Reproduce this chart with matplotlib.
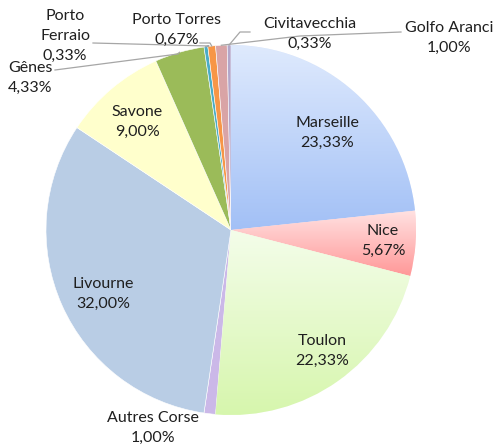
import matplotlib
matplotlib.use("Agg")
import matplotlib.pyplot as plt
import numpy as np
from matplotlib.colors import LinearSegmentedColormap

labels = ["Marseille", "Nice", "Toulon", "Autres Corse", "Livourne", "Savone",
          "Gênes", "Porto\nFerraio", "Porto Torres", "Golfo Aranci", "Civitavecchia"]
values = [23.33, 5.67, 22.33, 1.00, 32.00, 9.00, 4.33, 0.33, 0.67, 1.00, 0.33]
colors = ["#bcd2f8", "#ffb5b5", "#e3fbc6", "#cbb8e8", "#b9cde5", "#ffffcc",
          "#9bbb59", "#4bacc6", "#f79646", "#d9a4a6", "#b3a6c9"]
gradients = {0: ("#dfeafd", "#a2c0f6"), 1: ("#ffe2e2", "#ff9898"),
             2: ("#f4fdea", "#d6f6ac")}

W, H = 494, 446
CX, CY, R = 231, 230, 185

fig = plt.figure(figsize=(W/100, H/100), dpi=100)
ax = fig.add_axes([0, 0, 1, 1])

def px(x, y):
    return ((x-CX)/R, (CY-y)/R)

wedges, _ = ax.pie(values, colors=colors, startangle=90, counterclock=False,
                   radius=1, center=(0, 0), frame=True,
                   wedgeprops=dict(edgecolor="white", linewidth=0.4))
ax.set_xlim(-CX/R, (W-CX)/R)
ax.set_ylim(-(H-CY)/R, CY/R)
ax.set_aspect("equal")
ax.axis("off")

for i, (c1, c2) in gradients.items():
    w = wedges[i]
    verts = w.get_path().vertices
    x0, x1 = verts[:, 0].min(), verts[:, 0].max()
    y0, y1 = verts[:, 1].min(), verts[:, 1].max()
    cmap = LinearSegmentedColormap.from_list(f"g{i}", [c2, c1])
    grad = np.linspace(0, 1, 256).reshape(-1, 1)
    im = ax.imshow(grad, cmap=cmap, origin="lower", extent=(x0, x1, y0, y1),
                   aspect="auto", zorder=w.get_zorder() + 0.1, interpolation="bilinear")
    im.set_clip_path(w)
ax.set_xlim(-CX/R, (W-CX)/R)
ax.set_ylim(-(H-CY)/R, CY/R)

font = dict(family=["Lato", "DejaVu Sans"], fontsize=11.5, color="#1f1f1f",
            ha="center", va="center", linespacing=1.55, zorder=10)

def pct(v):
    return f"{v:.2f}".replace(".", ",") + "%"

label_pos = {
    "Marseille": (327, 133), "Nice": (383, 241), "Toulon": (322, 351),
    "Autres Corse": (153, 428), "Livourne": (103, 294), "Savone": (137, 122),
    "Gênes": (30, 78), "Porto\nFerraio": (65, 36), "Porto Torres": (177, 30),
    "Golfo Aranci": (449, 38), "Civitavecchia": (310, 34),
}
for lab, v in zip(labels, values):
    x, y = label_pos[lab]
    ax.text(*px(x, y), lab + "\n" + pct(v), **font)

def wedge_point(i, r=1.0):
    w = wedges[i]
    th = np.deg2rad((w.theta1 + w.theta2) / 2)
    return (r*np.cos(th), r*np.sin(th))

line_kw = dict(color="#a6a6a6", lw=0.9, zorder=9)
leaders = {
    6: [(55, 70), (178, 54)],
    7: [(93, 43), (209, 46)],
    8: [(200, 43), (210, 43)],
    9: [(401, 32), (300, 36)],
    10: [(250, 32), (240, 32)],
}
for i, pts in leaders.items():
    xs = [px(*p)[0] for p in pts]
    ys = [px(*p)[1] for p in pts]
    ex, ey = wedge_point(i, 1.0)
    xs.append(ex); ys.append(ey)
    ax.plot(xs, ys, **line_kw)

fig.savefig("out.png", dpi=100)
